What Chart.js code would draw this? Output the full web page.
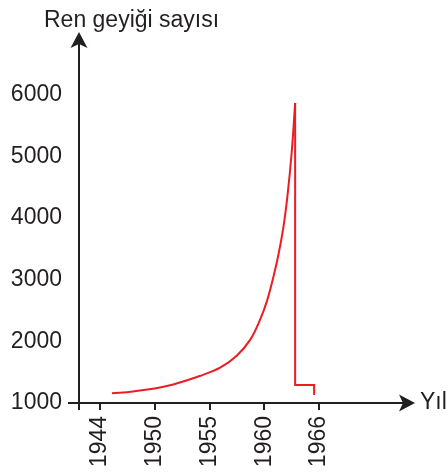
<!DOCTYPE html>
<html>
<head>
<meta charset="utf-8">
<script src="https://cdn.jsdelivr.net/npm/chart.js@4"></script>
<style>
  html, body { margin: 0; padding: 0; background: #fff; }
  #wrap { width: 448px; height: 472px; }
</style>
</head>
<body>
<div id="wrap"><canvas id="chart" width="448" height="472"></canvas></div>
<script>
// axis labels
const yTitle = 'Ren geyiği sayısı'
const xTitle = 'Yıl'

// tick labels (x ticks are evenly spaced, not to scale)
const xTickYears = [1944, 1950, 1955, 1960, 1966]
const yTickValues = [1000, 2000, 3000, 4000, 5000, 6000]

// population growth curve
const curveYears = [1945.3, 1947.6, 1951.1, 1954.1, 1956.0, 1957.5, 1958.7, 1959.6, 1960.27, 1960.99, 1961.54, 1962.09, 1962.53, 1962.99, 1963.37]
const curveCounts = [1157, 1187, 1276, 1438, 1576, 1771, 2023, 2347, 2648, 3045, 3403, 3857, 4360, 5058, 5865]

// crash after the peak
const dropYears = [1963.37, 1963.37, 1965.45, 1965.45]
const dropCounts = [5865, 1292, 1292, 1130]

const ink = '#231f20'
const red = '#ed1c24'
const font = "'Liberation Sans', Arial, sans-serif"

// year -> position on the evenly spaced x axis
function yearPos(year) {
    let i = 0
    while (i < xTickYears.length - 2 && year > xTickYears[i + 1]) i++
    return i + (year - xTickYears[i]) / (xTickYears[i + 1] - xTickYears[i])
}

function toPoints(years, counts) {
    return years.map((y, i) => ({x: yearPos(y), y: counts[i]}))
}

const axesPlugin = {
    id: 'arrowAxes',
    afterDraw(chart) {
        const ctx = chart.ctx
        const xs = chart.scales.x
        const ys = chart.scales.y
        const ox = xs.left
        const oy = ys.getPixelForValue(1000)
        const top = chart.chartArea.top
        const right = chart.chartArea.right

        ctx.save()
        ctx.strokeStyle = ink
        ctx.fillStyle = ink
        ctx.lineWidth = 2

        // y axis
        ctx.beginPath()
        ctx.moveTo(ox, oy + 7)
        ctx.lineTo(ox, top + 10)
        ctx.stroke()
        ctx.beginPath()
        ctx.moveTo(ox, top - 1)
        ctx.lineTo(ox + 8.5, top + 15)
        ctx.lineTo(ox, top + 11)
        ctx.lineTo(ox - 8.5, top + 15)
        ctx.closePath()
        ctx.fill()

        // x axis
        ctx.beginPath()
        ctx.moveTo(ox - 11, oy)
        ctx.lineTo(right - 10, oy)
        ctx.stroke()
        ctx.beginPath()
        ctx.moveTo(right, oy)
        ctx.lineTo(right - 16, oy - 8.5)
        ctx.lineTo(right - 12, oy)
        ctx.lineTo(right - 16, oy + 8.5)
        ctx.closePath()
        ctx.fill()

        ctx.font = '23px ' + font
        ctx.textAlign = 'left'
        ctx.textBaseline = 'alphabetic'
        ctx.fillText(yTitle, 44, 27)
        ctx.textBaseline = 'middle'
        ctx.fillText(xTitle, right + 5, oy)
        ctx.restore()
    }
}

new Chart(document.getElementById('chart'), {
    type: 'scatter',
    data: {
        datasets: [
            {
                data: toPoints(curveYears, curveCounts),
                showLine: true,
                borderColor: red,
                borderWidth: 2,
                pointRadius: 0,
                tension: 0.4
            },
            {
                data: toPoints(dropYears, dropCounts),
                showLine: true,
                borderColor: red,
                borderWidth: 2,
                pointRadius: 0,
                tension: 0
            }
        ]
    },
    options: {
        responsive: false,
        animation: false,
        layout: {padding: {top: 33, right: 33, left: 0, bottom: 0}},
        plugins: {legend: {display: false}, tooltip: {enabled: false}},
        scales: {
            x: {
                type: 'linear',
                min: -0.384,
                max: 5.75,
                afterBuildTicks: s => { s.ticks = xTickYears.map((y, i) => ({value: i})) },
                afterFit: s => { s.height = 69 },
                border: {display: false},
                grid: {drawOnChartArea: false, drawTicks: true, tickLength: 7, color: ink, lineWidth: 2},
                ticks: {
                    autoSkip: false,
                    minRotation: 90,
                    maxRotation: 90,
                    padding: 6,
                    color: ink,
                    font: {family: font, size: 23},
                    callback: (v, i) => String(xTickYears[i])
                }
            },
            y: {
                min: 1000,
                max: 7000,
                afterBuildTicks: s => { s.ticks = yTickValues.map(v => ({value: v})) },
                afterFit: s => { s.width = 79 },
                border: {display: false},
                grid: {display: false, drawTicks: false},
                ticks: {
                    padding: 17,
                    color: ink,
                    font: {family: font, size: 23},
                    callback: v => String(v)
                }
            }
        }
    },
    plugins: [axesPlugin]
})
</script>
</body>
</html>
